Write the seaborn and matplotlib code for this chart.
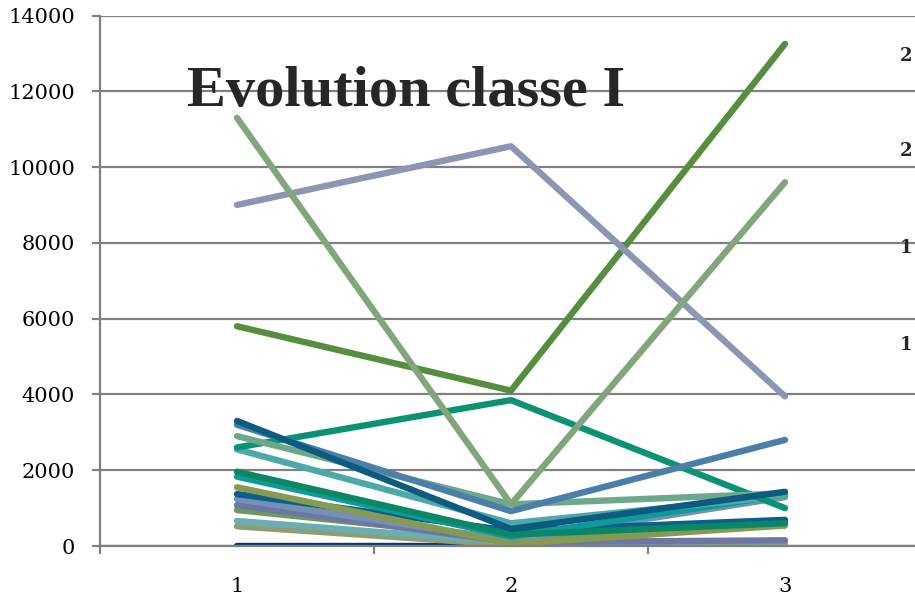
import matplotlib
matplotlib.use("Agg")
import matplotlib.pyplot as plt
import seaborn as sns
import pandas as pd
from matplotlib.ticker import FixedLocator

# Periods on the x axis
periods = ["1", "2", "3"]

# One entry per series, drawn in this order (first = bottom)
series_names = [
    "s01", "s02", "s03", "s04", "s05", "s06", "s07", "s08", "s09",
    "s10", "s11", "s12", "s13", "s14", "s15", "s16", "s17", "s18",
]
period_1 = [0, 520, 660, 950, 1080, 1240, 1370, 1550, 1830,
            1960, 2550, 2600, 2900, 3200, 3300, 5800, 9000, 11300]
period_2 = [0, 30, 100, 200, 100, 150, 400, 60, 250,
            300, 600, 3850, 1100, 920, 450, 4100, 10550, 1100]
period_3 = [0, 40, 130, 550, 150, 1290, 690, 540, 1350,
            600, 1320, 1000, 1390, 2800, 1430, 13250, 3950, 9600]
series_colors = [
    "#003c72", "#909d74", "#6aaeb3", "#6b9b5c", "#6e77a3", "#7590b5",
    "#0a5f8c", "#879b50", "#0b9c9a", "#0b8765", "#4ba9a9", "#0a9373",
    "#6ea88c", "#4a7fa9", "#0d5b80", "#558f3e", "#8a96b2", "#82a67c",
]

y_ticks = [0, 2000, 4000, 6000, 8000, 10000, 12000, 14000]
side_labels = ["2", "2", "1", "1"]

rows = []
for i, name in enumerate(series_names):
    for p, vals in zip(periods, (period_1, period_2, period_3)):
        rows.append({"serie": name, "periode": periods.index(p), "valeur": vals[i]})
df = pd.DataFrame(rows)

sns.set_theme(style="white")
plt.rcParams["font.family"] = ["DejaVu Serif", "DejaVu Sans"]

W, H = 915, 596
fig = plt.figure(figsize=(W / 100, H / 100), dpi=100)
fig.patch.set_facecolor("white")
ax = fig.add_axes([100 / W, 50 / H, 822 / W, 530.5 / H])
ax.set_facecolor("white")

sns.lineplot(
    data=df, x="periode", y="valeur", hue="serie",
    hue_order=series_names, palette=series_colors,
    linewidth=4.6, legend=False, sort=False, ax=ax,
    solid_capstyle="round", solid_joinstyle="round",
)

ax.set_xlim(-0.5, 2.5)
ax.set_ylim(0, 14000)
ax.set_xlabel("")
ax.set_ylabel("")

# Horizontal gridlines
ax.set_yticks(y_ticks)
ax.set_yticklabels([str(v) for v in y_ticks], fontsize=15, family="DejaVu Serif")
ax.yaxis.grid(True, color="#808080", linewidth=1.6)
ax.xaxis.grid(False)
ax.set_axisbelow(True)

# Category labels centred, tick marks between categories
ax.set_xticks([0, 1, 2])
ax.set_xticklabels(periods, fontsize=15, family="DejaVu Serif")
ax.xaxis.set_minor_locator(FixedLocator([-0.5, 0.5, 1.5, 2.5]))
ax.tick_params(axis="x", which="major", length=0, pad=22, colors="black")
ax.tick_params(axis="x", which="minor", length=6, width=1.6, color="#808080",
               direction="out", bottom=True)
ax.tick_params(axis="y", which="major", length=6, width=1.6, color="#808080",
               direction="out", pad=12, left=True, labelcolor="black")

for side in ("top", "right"):
    ax.spines[side].set_visible(False)
for side in ("left", "bottom"):
    ax.spines[side].set_color("#808080")
    ax.spines[side].set_linewidth(1.6)

fig.text(187 / W, 1 - 106 / H, "Evolution classe I", fontsize=42,
         fontweight="bold", family="Liberation Serif", va="baseline", ha="left")

for lbl, yp in zip(side_labels, [56, 151, 248, 345]):
    fig.text(900 / W, 1 - yp / H, lbl, fontsize=13, fontweight="bold",
             family="DejaVu Serif", va="center", ha="left")

fig.savefig("out.png", dpi=100, facecolor="white")
